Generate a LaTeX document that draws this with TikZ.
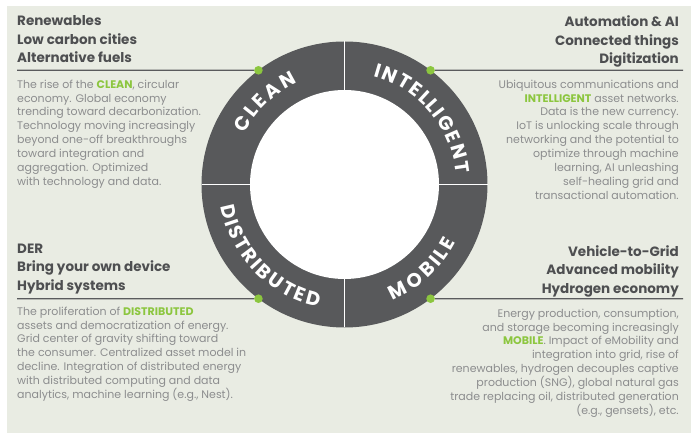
\documentclass[tikz,border=0pt]{standalone}
\usepackage{fontspec}
\setmainfont{Poppins}
\usetikzlibrary{calc,decorations.text}
\definecolor{bggray}{HTML}{E9ECE3}
\definecolor{ringgray}{HTML}{58595B}
\definecolor{headgray}{HTML}{4E4F51}
\definecolor{bodygray}{HTML}{8C8D8E}
\definecolor{rulegray}{HTML}{5A5B5D}
\definecolor{leafgreen}{HTML}{8CC63F}
\def\ringfont{\bfseries\fontsize{19.5}{19.5}\selectfont}
\def\hl#1{\textcolor{leafgreen}{\textbf{#1}}}
\def\ringtext(#1:#2:#3)#4{\path[decorate, decoration={text effects along path, text={#4}, text effects/.cd, text along path, fit text to path, characters={text=white, font=\ringfont}}] ($(ring)+(#1:#3)$) arc (#1:#2:#3);}

\tikzset{
  head/.style={font=\bfseries\fontsize{13.5}{18.5}\selectfont, text=headgray, inner sep=0pt, execute at begin node=\strut},
  body/.style={font=\fontsize{11}{13.9}\selectfont, text=bodygray, inner sep=0pt, execute at begin node=\strut},
  dot/.style={circle, fill=leafgreen, inner sep=0pt, minimum size=8.6pt},
  rule/.style={draw=rulegray, line width=1.3pt}
}

\begin{document}
\begin{tikzpicture}[x=1pt,y=1pt]
		%%%%% START %%%%%
		
		\useasboundingbox (0,0) rectangle (691,438);
		\fill[bggray] (7,5) rectangle (691,432);
		
		\coordinate (ring) at (344.5,253.5);
		
		% the ring
		\fill[ringgray] (ring) circle (143);
		\fill[white] (ring) circle (94.5);
		\draw[white, line width=1.8pt] ($(ring)+(0,143)$) -- ($(ring)+(0,-143)$);
		\draw[white, line width=1.8pt] ($(ring)+(-143,0)$) -- ($(ring)+(143,0)$);
		
		\ringtext(153:115:112){CLEAN}
		\ringtext(75:5.5:112){INTELLIGENT}
		\ringtext(190:258:125.5){DISTRIBUTED}
		\ringtext(292.4:332.7:125.5){MOBILE}
		
		% dots and rules
		\node[dot] (cleandot) at ($(ring)+(127:143)$) {};
		\node[dot] (smartdot) at ($(ring)+(53:143)$) {};
		\node[dot] (distdot) at ($(ring)+(233:143)$) {};
		\node[dot] (mobiledot) at ($(ring)+(307:143)$) {};
		
		\coordinate (cleanend) at (17,367.7);
		\coordinate (smartend) at (683,367.7);
		\coordinate (distend) at (17,139.3);
		\coordinate (mobileend) at (683,139.3);
		
		\draw[rule] (cleanend) -- (cleandot);
		\draw[rule] (smartdot) -- (smartend);
		\draw[rule] (distend) -- (distdot);
		\draw[rule] (mobiledot) -- (mobileend);
		
		% top left
		\node[head, align=left, anchor=north west] (cleanhead) at (17,422.4) {Renewables\\Low carbon cities\\Alternative fuels};
		\node[body, align=left, anchor=north west] (cleantext) at (17,358.4) {The rise of the \hl{CLEAN}, circular\\economy. Global economy\\trending toward decarbonization.\\Technology moving increasingly\\beyond one-off breakthroughs\\toward integration and\\aggregation. Optimized\\with technology and data.};
		
		% top right
		\node[head, align=right, anchor=north east] (smarthead) at (679,422.4) {Automation \& AI\\Connected things\\Digitization};
		\node[body, align=right, anchor=north east] (smarttext) at (679,358.4) {Ubiquitous communications and\\\hl{INTELLIGENT} asset networks.\\Data is the new currency.\\IoT is unlocking scale through\\networking and the potential to\\optimize through machine\\learning, AI unleashing\\self-healing grid and\\transactional automation.};
		
		% bottom left
		\node[head, align=left, anchor=north west] (disthead) at (17,194.4) {DER\\Bring your own device\\Hybrid systems};
		\node[body, align=left, anchor=north west] (disttext) at (17,131.4) {The proliferation of \hl{DISTRIBUTED}\\assets and democratization of energy.\\Grid center of gravity shifting toward\\the consumer. Centralized asset model in\\decline. Integration of distributed energy\\with distributed computing and data\\analytics, machine learning (e.g., Nest).};
		
		% bottom right
		\node[head, align=right, anchor=north east] (mobilehead) at (679,192.8) {Vehicle-to-Grid\\Advanced mobility\\Hydrogen economy};
		\node[body, align=right, anchor=north east] (mobiletext) at (679,129.4) {Energy production, consumption,\\and storage becoming increasingly\\\hl{MOBILE}. Impact of eMobility and\\integration into grid, rise of\\renewables, hydrogen decouples captive\\production (SNG), global natural gas\\trade replacing oil, distributed generation\\(e.g., gensets), etc.};
		
		%%%%% END %%%%%
	\end{tikzpicture}
\end{document}
